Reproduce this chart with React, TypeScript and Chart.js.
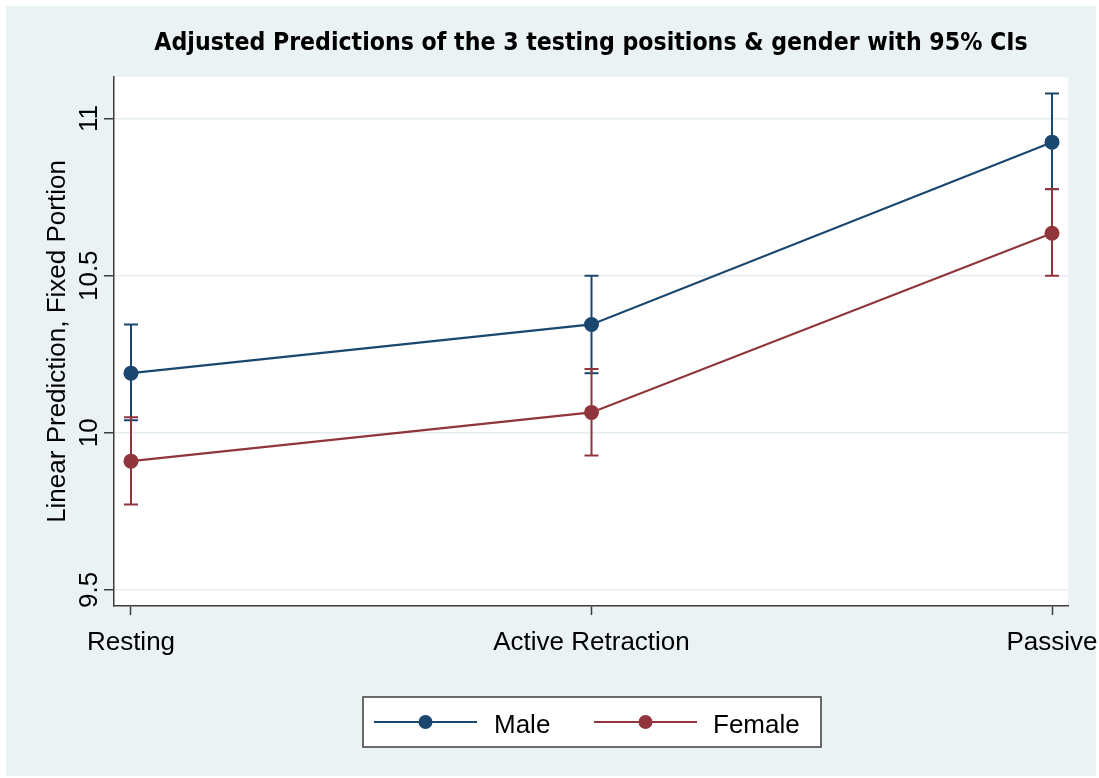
import React, { useEffect, useRef } from "react";
import { Chart, registerables } from "chart.js";

Chart.register(...registerables);

const categories = ["Resting", "Active Retraction", "Passive"];
const maleMean = [10.19, 10.345, 10.925];
const maleLower = [10.04, 10.19, 10.775];
const maleUpper = [10.345, 10.5, 11.08];
const femaleMean = [9.91, 10.065, 10.635];
const femaleLower = [9.772, 9.928, 10.5];
const femaleUpper = [10.05, 10.203, 10.776];
const yTicks = [9.5, 10, 10.5, 11];
const seriesNames = ["Male", "Female"];
const seriesColors = ["#1a476f", "#90353b"];
const titleText = "Adjusted Predictions of the 3 testing positions & gender with 95% CIs";
const yTitle = "Linear Prediction, Fixed Portion";

const SANS = "'Liberation Sans', Arial, sans-serif";
const TITLE_FONT = "bold 24.6px 'Liberation Sans Narrow', 'DejaVu Sans Condensed', sans-serif";
const AXIS_COLOR = "#3c3c3c";
const BG = "#eaf2f3";

const decor = {
  id: "decor",
  beforeDraw(chart: any) {
    const { ctx, chartArea: a } = chart;
    ctx.save();
    ctx.fillStyle = "#ffffff";
    ctx.fillRect(0, 0, chart.width, chart.height);
    ctx.fillStyle = BG;
    ctx.fillRect(6, 6, chart.width - 9, chart.height - 8);
    ctx.fillStyle = "#ffffff";
    ctx.fillRect(a.left, a.top, a.right - a.left, a.bottom - a.top);
    ctx.restore();
  },
  beforeDatasetsDraw(chart: any) {
    const { ctx } = chart;
    const xs = chart.scales.x;
    const ys = chart.scales.y;
    ctx.save();
    chart.data.datasets.forEach((ds: any) => {
      ctx.strokeStyle = ds.borderColor;
      ctx.lineWidth = 2;
      ds.errLower.forEach((lo: number, j: number) => {
        const hi = ds.errUpper[j];
        const x = xs.getPixelForValue(j);
        const y1 = ys.getPixelForValue(lo);
        const y2 = ys.getPixelForValue(hi);
        ctx.beginPath();
        ctx.moveTo(x, y1);
        ctx.lineTo(x, y2);
        ctx.moveTo(x - 7, y1);
        ctx.lineTo(x + 7, y1);
        ctx.moveTo(x - 7, y2);
        ctx.lineTo(x + 7, y2);
        ctx.stroke();
      });
    });
    ctx.restore();
  },
  afterDraw(chart: any) {
    const { ctx, chartArea: a } = chart;
    const xs = chart.scales.x;
    const ys = chart.scales.y;
    ctx.save();
    ctx.fillStyle = "#000";
    // x tick labels
    ctx.font = `26px ${SANS}`;
    ctx.textAlign = "center";
    ctx.textBaseline = "alphabetic";
    categories.forEach((c, i) => {
      ctx.fillText(c, xs.getPixelForValue(i), 650);
    });
    // y tick labels (rotated)
    yTicks.forEach((v) => {
      const y = ys.getPixelForValue(v);
      ctx.save();
      ctx.translate(97, y);
      ctx.rotate(-Math.PI / 2);
      ctx.textAlign = "center";
      ctx.fillText(String(v), 0, 0);
      ctx.restore();
    });
    // title
    ctx.font = TITLE_FONT;
    ctx.textAlign = "center";
    ctx.fillText(titleText, (a.left + a.right) / 2, 50);
    // legend
    const lx = 363, ly = 697, lw = 458, lh = 50;
    ctx.fillStyle = "#ffffff";
    ctx.fillRect(lx, ly, lw, lh);
    ctx.strokeStyle = AXIS_COLOR;
    ctx.lineWidth = 1.5;
    ctx.strokeRect(lx, ly, lw, lh);
    const items = [
      { x0: 374, x1: 477, tx: 494 },
      { x0: 594, x1: 697, tx: 713 },
    ];
    const cy = 722;
    items.forEach((it, i) => {
      ctx.strokeStyle = seriesColors[i];
      ctx.lineWidth = 2;
      ctx.beginPath();
      ctx.moveTo(it.x0, cy);
      ctx.lineTo(it.x1, cy);
      ctx.stroke();
      ctx.fillStyle = seriesColors[i];
      ctx.beginPath();
      ctx.arc((it.x0 + it.x1) / 2, cy, 7, 0, Math.PI * 2);
      ctx.fill();
      ctx.fillStyle = "#000";
      ctx.font = `26px ${SANS}`;
      ctx.textAlign = "left";
      ctx.fillText(seriesNames[i], it.tx, 733);
    });
    ctx.restore();
  },
};

export default function App() {
  const ref = useRef<HTMLCanvasElement | null>(null);
  useEffect(() => {
    if (!ref.current) return;
    const mk = (mean: number[], lo: number[], hi: number[], i: number) => ({
      label: seriesNames[i],
      data: categories.map((_, j) => ({ x: j, y: mean[j] })),
      borderColor: seriesColors[i],
      backgroundColor: seriesColors[i],
      pointBackgroundColor: seriesColors[i],
      borderWidth: 2.2,
      pointRadius: 7.5,
      pointHoverRadius: 7.5,
      pointBorderWidth: 0,
      tension: 0,
      fill: false,
      errLower: lo,
      errUpper: hi,
    });
    const chart = new Chart(ref.current, {
      type: "line",
      data: {
        datasets: [
          mk(maleMean, maleLower, maleUpper, 0),
          mk(femaleMean, femaleLower, femaleUpper, 1),
        ] as any,
      },
      options: {
        responsive: false,
        animation: false,
        events: [],
        layout: { padding: { left: 0, top: 77, right: 31, bottom: 112 } },
        plugins: {
          legend: { display: false },
          title: { display: false },
          tooltip: { enabled: false },
        },
        scales: {
          x: {
            type: "linear",
            min: -0.0369,
            max: 2.0347,
            afterBuildTicks: (s: any) => {
              s.ticks = categories.map((_, i) => ({ value: i }));
            },
            afterFit: (s: any) => {
              s.height = 60;
            },
            ticks: { display: false },
            grid: {
              drawOnChartArea: false,
              drawTicks: true,
              tickLength: 9,
              tickColor: AXIS_COLOR,
              tickWidth: 1.5,
            },
            border: { color: AXIS_COLOR, width: 1.5 },
          },
          y: {
            type: "linear",
            min: 9.449,
            max: 11.1324,
            afterBuildTicks: (s: any) => {
              s.ticks = yTicks.map((v) => ({ value: v }));
            },
            afterFit: (s: any) => {
              s.width = 114;
            },
            ticks: { display: false },
            grid: {
              color: "#e3ecee",
              lineWidth: 1.5,
              tickLength: 10,
              tickColor: AXIS_COLOR,
              tickWidth: 1.5,
            },
            border: { color: AXIS_COLOR, width: 1.5 },
            title: {
              display: true,
              text: yTitle,
              color: "#000",
              font: { family: SANS, size: 26 },
              padding: { top: 42, bottom: 0 },
            },
          },
        },
      } as any,
      plugins: [decor],
    });
    return () => chart.destroy();
  }, []);
  return (
    <div style={{ position: "absolute", left: 0, top: 0, width: 1099, height: 778 }}>
      <canvas ref={ref} width={1099} height={778} style={{ display: "block" }} />
    </div>
  );
}
